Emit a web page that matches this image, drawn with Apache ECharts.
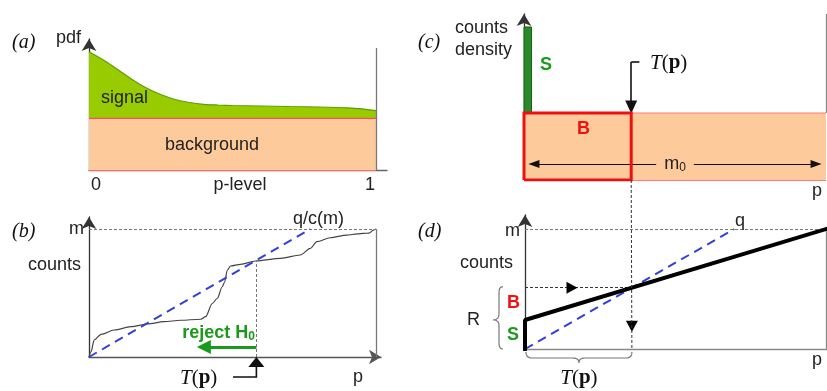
<!DOCTYPE html>
<html><head><meta charset="utf-8">
<script src="https://cdn.jsdelivr.net/npm/echarts@6/dist/echarts.min.js"></script>
<style>html,body{margin:0;padding:0;background:#fff}#c{width:827px;height:391px}</style>
</head><body><div id="c"></div>
<script>
// ---------- DATA ----------
// (a) pdf of p-levels: total density (signal + background), background level
const pA = [0,0.05,0.1,0.15,0.2,0.25,0.3,0.35,0.4,0.45,0.5,0.6,0.7,0.8,0.9,0.95,1];
const pdfTotal = [2.288,2.128,1.944,1.75,1.586,1.46,1.364,1.306,1.271,1.257,1.248,1.238,1.228,1.219,1.203,1.184,1.147];
const pdfBackground = 1;
const xTickLabelsA = ['0','p-level','1'];
// (b) empirical counts (fraction of m) vs p
const pB = [0,0.007,0.018,0.042,0.088,0.146,0.204,0.261,0.319,0.389,0.406,0.430,0.447,0.464,0.472,0.482,0.493,0.528,0.580,0.667,0.736,0.771,0.794,0.840,0.898,0.935,0.956,0.975,0.991,1];
const countsB = [0,0.041,0.133,0.177,0.211,0.237,0.258,0.276,0.287,0.295,0.315,0.420,0.459,0.549,0.584,0.680,0.711,0.724,0.750,0.771,0.797,0.849,0.901,0.932,0.953,0.962,0.966,0.968,0.992,1];
const qLineEndB = 0.771;   // p where q/c(m) line reaches m
const thresholdB = 0.583;  // T(p)
const rejectArrowEndB = 0.40;
// (c) count density: signal spike and flat background
const signalWidthC = 0.025;
const signalDensityC = 2.284;
const backgroundDensityC = 1;
const thresholdCD = 0.355; // T(p) shared by (c) and (d)
const m0ArrowC = [0.033, 0.967, 0.239];
// (d) idealised counts
const signalCountD = 0.242;
const qLineEndD = 0.695;

// ---------- HELPERS ----------
const SANS = '"Liberation Sans", Arial, sans-serif';
const SERIF = '"Liberation Serif", "Times New Roman", serif';
const GREEN_T = '#1e9a1e', RED_T = '#f01010';
const DOT = {color:'#777', width:1, type:[3,2]};

function xAx(gi, max, opt) {
  return Object.assign({type:'value', gridIndex:gi, min:0, max,
    axisLine:{show:true, onZero:false, lineStyle:{color:'#666', width:1.3}},
    axisTick:{show:false}, axisLabel:{show:false}, splitLine:{show:false}}, opt||{});
}
function yAx(gi, max) {
  return {type:'value', gridIndex:gi, min:0, max,
    axisLine:{show:true, onZero:false, lineStyle:{color:'#333', width:1.3}, symbol:['none','arrow'], symbolSize:[11,12]},
    axisTick:{show:false}, axisLabel:{show:false}, splitLine:{show:false}};
}
function ML(a, b, style, endSym, endSize, extra) {
  return [Object.assign({coord:a, symbol:'none', lineStyle:style}, extra||{}),
          {coord:b, symbol:endSym||'none', symbolSize:endSize||10}];
}
const yTB = thresholdB / qLineEndB;
const yTD = signalCountD + (1 - signalCountD) * thresholdCD;

const option = {
  animation:false,
  backgroundColor:'#fff',
  grid:[
    {left:89, top:39, width:298, height:131, outerBoundsMode:'none'},
    {left:89, top:217, width:292, height:140, outerBoundsMode:'none'},
    {left:524, top:14, width:302, height:166, outerBoundsMode:'none'},
    {left:525, top:215, width:302, height:134, outerBoundsMode:'none'}
  ],
  xAxis:[
    xAx(0, 1.038, {interval:0.5, axisLabel:{show:true, margin:6, showMinLabel:true, showMaxLabel:true,
      formatter:function(v){ const i=Math.round(v/0.5); if (Math.abs(v-i*0.5)>1e-6||i>2) return '';
        return ['{l|','{m|','{r|'][i] + xTickLabelsA[i] + '}'; },
      rich:{l:{padding:[0,0,0,14], fontSize:18, fontFamily:SANS, color:'#222'},
            m:{padding:[0,0,0,15], fontSize:18, fontFamily:SANS, color:'#222'},
            r:{padding:[0,12,0,0], fontSize:18, fontFamily:SANS, color:'#222'}}}}),
    xAx(1, 1.017, {axisLine:{show:true, onZero:false, lineStyle:{color:'#555', width:1.3}, symbol:['none','arrow'], symbolSize:[11,12]}}),
    xAx(2, 1, {axisLine:{show:false}}),
    xAx(3, 1.003, {axisLine:{show:true, onZero:false, lineStyle:{color:'#888', width:1.3}}})
  ],
  yAxis:[ yAx(0, 2.534), yAx(1, 1.094), yAx(2, 2.478), yAx(3, 1.117) ],
  series:[
    // (a) signal + background total
    {type:'line', xAxisIndex:0, yAxisIndex:0, z:2, symbol:'none', smooth:0.3,
     data:pA.map((p,i)=>[p,pdfTotal[i]]),
     lineStyle:{color:'#5d9e00', width:1.2}, areaStyle:{color:'#99cc00', opacity:1}},
    // (a) background
    {type:'line', xAxisIndex:0, yAxisIndex:0, z:3, symbol:'none',
     data:[[0,pdfBackground],[1,pdfBackground]],
     lineStyle:{color:'#ff5050', width:1.2}, areaStyle:{color:'#fdca9c', opacity:1},
     markLine:{silent:true, label:{show:false}, symbol:'none', data:[
       ML([0,0],[1,0],{color:'#ff6a6a', width:1.2, type:'solid'}),
       ML([1,0],[1,2.36],{color:'#777', width:1.3, type:'solid'})
     ]}},
    // (b) empirical counts
    {type:'line', xAxisIndex:1, yAxisIndex:1, z:4, symbol:'none', smooth:0.3, smoothMonotone:'x',
     data:pB.map((p,i)=>[p,countsB[i]]), lineStyle:{color:'#444', width:1.2},
     markLine:{silent:true, label:{show:false}, symbol:'none', data:[
       ML([0,1],[1,1],DOT),
       ML([1,0],[1,1],{color:'#777', width:1.3, type:'solid'}),
       ML([thresholdB,0],[thresholdB,yTB],DOT),
       ML([thresholdB,0.078],[rejectArrowEndB,0.078],{color:'#1a9a1a', width:3, type:'solid'},'triangle',[14,14])
     ]}},
    // (b) q line
    {type:'line', xAxisIndex:1, yAxisIndex:1, z:5, symbol:'none',
     data:[[0,0],[qLineEndB,1]], lineStyle:{color:'#3340d0', width:2, type:[9,6]}},
    // (c) background density
    {type:'line', xAxisIndex:2, yAxisIndex:2, z:2, symbol:'none',
     data:[[0,backgroundDensityC],[1,backgroundDensityC]],
     lineStyle:{color:'#ff7a7a', width:1.2}, areaStyle:{color:'#fdca9c', opacity:1},
     markArea:{silent:true, label:{show:false}, data:[
       [{coord:[0,backgroundDensityC], itemStyle:{color:'#2a8a2a', borderColor:'#175e17', borderWidth:1}}, {coord:[signalWidthC,signalDensityC]}]
     ]},
     markLine:{silent:true, label:{show:false}, symbol:'none', data:[
       ML([0,0],[1,0],{color:'#ff7a7a', width:1.2, type:'solid'}),
       ML([1,backgroundDensityC],[1,2.478],{color:'#888', width:1.3, type:'solid'})
     ]}},
    // (c) B region below threshold (outlined box)
    {type:'line', xAxisIndex:2, yAxisIndex:2, z:6, symbol:'none',
     data:[[0,0],[0,backgroundDensityC],[thresholdCD,backgroundDensityC],[thresholdCD,0],[0,0]],
     lineStyle:{color:'#ee1010', width:3, join:'miter'},
     markLine:{silent:true, symbol:'none', label:{show:false}, data:[
       ML([m0ArrowC[0],m0ArrowC[2]],[m0ArrowC[1],m0ArrowC[2]],{color:'#111', width:1, type:'solid'},'triangle',[8,11],
          {symbol:'triangle', symbolSize:[8,11]}),
       ML([thresholdCD,1.761],[thresholdCD,1.09],{color:'#111', width:1.6, type:'solid'},'triangle',[12,13]),
       ML([thresholdCD,1.761],[thresholdCD+0.027,1.761],{color:'#111', width:1.6, type:'solid'})
     ]}},
    // (d) idealised counts
    {type:'line', xAxisIndex:3, yAxisIndex:3, z:5, symbol:'none',
     data:[[0,0],[0,signalCountD],[1,1]], lineStyle:{color:'#000', width:4, cap:'square'},
     markLine:{silent:true, label:{show:false}, symbol:'none', data:[
       ML([0,1],[1,1],DOT),
       ML([1,0],[1,1],{color:'#888', width:1.3, type:'solid'}),
       ML([0,yTD],[thresholdCD,yTD],{color:'#333', width:1, type:[3,2]})
     ]},
     markPoint:{silent:true, label:{show:false}, data:[
       {coord:[0.156,yTD], symbol:'path://M0,0L10,6L0,12Z', symbolSize:[11,12], itemStyle:{color:'#000'}},
       {coord:[thresholdCD,0.19], symbol:'path://M0,0L12,0L6,10Z', symbolSize:[12,11], itemStyle:{color:'#000'}}
     ]}},
    // (d) q line
    {type:'line', xAxisIndex:3, yAxisIndex:3, z:4, symbol:'none',
     data:[[0,0],[qLineEndD,1]], lineStyle:{color:'#3340d0', width:2, type:[9,6]}}
  ]
};

const chart = echarts.init(document.getElementById('c'));
chart.setOption(option);

// ---------- TEXT & CONNECTORS ----------
function txt(text, x, y, o) {
  o = o || {};
  return {type:'text', x, y, z:50, silent:true, style:Object.assign({text, fill:'#222', fontSize:18,
    fontFamily:SANS, align:'left', verticalAlign:'middle'}, o)};
}
function tp(x, y, align) {
  const r = {fontFamily:SERIF, fontSize:21, fill:'#111'};
  return {type:'text', x, y, z:50, silent:true, style:{text:'{i|T}{n|(}{b|p}{n|)}', align:align||'left', verticalAlign:'middle',
    rich:{i:Object.assign({fontStyle:'italic'},r), n:r, b:Object.assign({fontWeight:'bold'},r)}}};
}
function lab(s, x, y) { return txt(s, x, y, {fontFamily:SERIF, fontStyle:'italic', fontSize:20, fill:'#111'}); }
// sample a path of line / quadratic segments into points
function pathPts(start, segs) {
  const pts = [start]; let cur = start;
  segs.forEach(s => {
    if (s.length === 2) { pts.push(s); cur = s; }
    else { const c = [s[0], s[1]], e = [s[2], s[3]];
      for (let k = 1; k <= 8; k++) { const t = k / 8, u = 1 - t;
        pts.push([u*u*cur[0] + 2*u*t*c[0] + t*t*e[0], u*u*cur[1] + 2*u*t*c[1] + t*t*e[1]]); }
      cur = e; }
  });
  return pts;
}

const pxB = chart.convertToPixel({gridIndex:1}, [thresholdB, 0]);
const pxC = chart.convertToPixel({gridIndex:2}, [thresholdCD, 0]);
const pxD = chart.convertToPixel({gridIndex:3}, [thresholdCD, 0]);
const d0 = chart.convertToPixel({gridIndex:3}, [0, 0]);
const dY = chart.convertToPixel({gridIndex:3}, [0, yTD]);
const m0a = chart.convertToPixel({gridIndex:2}, [(m0ArrowC[0] + m0ArrowC[1]) / 2, m0ArrowC[2]]);

const bx = d0[0] - 26, b1 = dY[1] - 1, b2 = d0[1], bm = (b1 + b2) / 2 + 2;
const rBrace = pathPts([bx+4, b1], [[bx, b1, bx, b1+6], [bx, bm-6], [bx, bm, bx-6, bm], [bx, bm, bx, bm+6], [bx, b2-6], [bx, b2, bx+4, b2]]);
const ly = d0[1] + 3, lx1 = d0[0] + 1, lx2 = pxD[0], lm = (lx1 + lx2) / 2;
const bBrace = pathPts([lx1, ly], [[lx1, ly+6, lx1+6, ly+6], [lm-6, ly+6], [lm, ly+6, lm, ly+11], [lm, ly+6, lm+6, ly+6], [lx2-6, ly+6], [lx2, ly+6, lx2, ly]]);

const graphics = [
  // (a)
  lab('(a)', 12, 43), txt('pdf', 81, 38, {align:'right'}),
  txt('signal', 101, 98), txt('background', 165, 145),
  // (b)
  lab('(b)', 12, 232), txt('m', 84, 229, {align:'right'}), txt('counts', 28, 265),
  txt('q/c(m)', 293, 219),
  {type:'text', x:255, y:333, z:50, silent:true, style:{text:'{a|reject H}{s|0}', align:'right', verticalAlign:'middle',
     rich:{a:{fontSize:18, fontWeight:'bold', fontFamily:SANS, fill:'#1a9a1a'}, s:{fontSize:12, fontWeight:'bold', fontFamily:SANS, fill:'#1a9a1a', padding:[8,0,0,0]}}}},
  tp(180, 378), txt('p', 353, 377),
  {type:'polyline', z:50, silent:true, shape:{points:[[233,377],[pxB[0],377],[pxB[0],366]]}, style:{stroke:'#111', lineWidth:1.6, fill:null}},
  {type:'polygon', z:50, silent:true, shape:{points:[[pxB[0]-8,367],[pxB[0]+8,367],[pxB[0],357]]}, style:{fill:'#111'}},
  // (c)
  lab('(c)', 418, 43), txt('counts', 455, 28), txt('density', 455, 50),
  txt('S', 540, 65, {fontWeight:'bold', fill:GREEN_T}), txt('B', 577, 129, {fontWeight:'bold', fill:RED_T}),
  {type:'text', x:m0a[0], y:m0a[1], z:50, silent:true, style:{text:'{m|m}{s|0}', align:'center', verticalAlign:'middle',
     backgroundColor:'#fdca9c', padding:[0,8,0,8],
     rich:{m:{fontSize:18, fontFamily:SANS, fill:'#222'}, s:{fontSize:12, fontFamily:SANS, fill:'#222', padding:[8,0,0,0]}}}},
  tp(650, 63), txt('p', 812, 191),
  // connector between (c) and (d)
  {type:'line', z:40, silent:true, shape:{x1:pxC[0], y1:pxC[1], x2:pxD[0], y2:pxD[1]}, style:{stroke:'#333', lineWidth:1, lineDash:[3,2]}},
  // (d)
  lab('(d)', 418, 232), txt('m', 520, 231, {align:'right'}), txt('counts', 460, 263),
  txt('q', 735, 221), txt('R', 467, 320),
  txt('B', 507, 303, {fontWeight:'bold', fill:RED_T}), txt('S', 507, 335, {fontWeight:'bold', fill:GREEN_T}),
  tp(lm, 378, 'center'), txt('p', 812, 360),
  {type:'polyline', z:50, silent:true, shape:{points:rBrace}, style:{stroke:'#777', lineWidth:1.2, fill:null}},
  {type:'polyline', z:50, silent:true, shape:{points:bBrace}, style:{stroke:'#777', lineWidth:1.2, fill:null}}
];
chart.setOption({graphic:graphics});
</script></body></html>
